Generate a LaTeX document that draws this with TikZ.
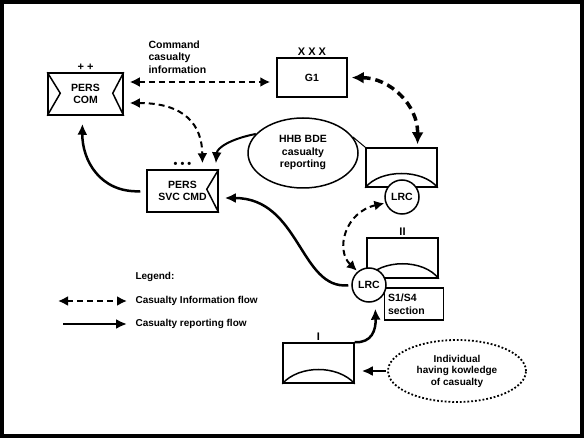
\documentclass[tikz,border=0pt]{standalone}
\usepackage{fontspec}
\setmainfont{Liberation Sans}
\usetikzlibrary{shapes.geometric}
\usetikzlibrary{arrows.meta}

\begin{document}
\begin{tikzpicture}[x=1pt,y=-1pt,
  every node/.style={font=\bfseries\fontsize{10.5}{12.5}\selectfont},
  unit/.style={draw,line width=1.5pt,minimum width=71pt,minimum height=40pt,align=center,inner sep=0pt},
  echelon/.style={above,inner sep=2pt,font=\bfseries\fontsize{11}{11}\selectfont},
  lrc/.style={draw,circle,fill=white,line width=1.5pt,minimum size=34pt,inner sep=0pt},
  arch/.style={line width=1.5pt},
  infoflow/.style={line width=2pt,dash pattern=on 6pt off 4pt,{Latex[length=10pt,width=10pt]}-{Latex[length=10pt,width=10pt]}},
  repflow/.style={line width=2.5pt,-{Latex[length=11pt,width=10pt]}}]
\useasboundingbox (0,0) rectangle (584,438);
\draw[line width=4pt] (2,2) rectangle (582,436);

\node[unit,minimum width=75pt,minimum height=42pt] (perscom) at (85.5,94) {PERS\\COM};
\draw[arch] (perscom.north west) -- ++(13,21) -- (perscom.south west);
\draw[arch] (perscom.north east) -- ++(-11,21) -- (perscom.south east);
\node[echelon] (perscomech) at (perscom.north) {+ +};

\node[unit,minimum width=70pt,minimum height=39pt] (g1) at (312,77.5) {G1};
\node[echelon] (g1ech) at (g1.north) {X X X};

\node[unit,minimum height=42pt] (perssvc) at (182.5,191) {PERS\\SVC CMD};
\draw[arch] (perssvc.north east) -- ++(-12,20) -- (perssvc.south east);
\node[echelon] (perssvcech) at (perssvc.north) {\textbullet\ \textbullet\ \textbullet};

\node[ellipse,draw,line width=1.5pt,minimum width=110pt,minimum height=70pt,align=center] (hhb) at (303,153) {HHB BDE\\casualty\\reporting};

\node[unit,minimum height=39pt] (hhbunit) at (401.5,167.5) {};
\draw[arch] (hhbunit.south west) .. controls +(15,-19) and +(-15,-19) .. (hhbunit.south east);
\node[lrc] (lrc1) at (402,197) {LRC};

\node[unit] (unitII) at (402.5,258) {};
\draw[arch] (unitII.south west) .. controls +(15,-20) and +(-15,-20) .. (unitII.south east);
\node[echelon] (unitIIech) at (unitII.north) {II};
\node[draw,line width=1.5pt,text width=52pt,minimum height=32pt,align=left] (s1s4) at (414,304) {S1/S4\\section};
\node[lrc] (lrc2) at (369,285) {LRC};

\node[unit] (unitI) at (318.5,363) {};
\draw[arch] (unitI.south west) .. controls +(17,-19) and +(-17,-19) .. (unitI.south east);
\node[echelon] (unitIech) at (unitI.north) {I};

\node[ellipse,draw,line width=1.8pt,dotted,minimum width=138pt,minimum height=62pt,align=center,
  font=\bfseries\fontsize{10}{11.5}\selectfont] (indiv) at (457,371) {Individual\\having kowledge\\of casualty};

\node[anchor=west,align=left] (cmdlabel) at (145,57) {Command\\casualty\\information};

% information flow
\draw[infoflow,shorten <=6pt,shorten >=6pt] ([yshift=12pt]perscom.east) -- ([yshift=12pt]perscom.east -| g1.west);
\draw[infoflow,shorten <=6pt,shorten >=6pt] ([yshift=-9pt]perscom.east) .. controls (185,103) and (202,125) .. ([xshift=20pt]perssvc.north);
\draw[infoflow,line width=3.5pt,dash pattern=on 8pt off 5pt,shorten <=4pt,shorten >=3pt,
  {Latex[length=12pt,width=12pt]}-{Latex[length=12pt,width=12pt]}] (g1.east) .. controls (390,78) and (418,105) .. ([xshift=16pt]hhbunit.north);
\draw[infoflow,shorten <=1pt,shorten >=1pt] (lrc1.200) .. controls (345,212) and (335,250) .. (lrc2.130);

% reporting flow
\draw[line width=1pt] (hhb.18) -- (hhbunit.north west);
\draw[repflow,line width=2pt,shorten >=6pt] (hhb.158) .. controls (230,139) and (217,148) .. ([xshift=33pt]perssvc.north);
\draw[repflow,shorten <=6pt,shorten >=8pt] (perssvc.west) .. controls (100,193) and (82,160) .. ([xshift=-3pt]perscom.south);
\draw[repflow,shorten <=3pt,shorten >=6pt] (lrc2.west) .. controls (300,290) and (300,198) .. ([yshift=-7pt]perssvc.east);
\draw[repflow,shorten >=7pt] (unitI.north east) .. controls (372,343) and (376,330) .. (lrc2.-70);
\draw[repflow,shorten <=1pt,shorten >=7pt] (indiv.west) -- (indiv.west -| unitI.east);

% legend
\node[anchor=west,font=\bfseries\fontsize{10}{12}\selectfont] (legend) at (132,277) {Legend:};
\node[anchor=west,font=\bfseries\fontsize{10}{12}\selectfont] (infotext) at (132,301) {Casualty Information flow};
\node[anchor=west,font=\bfseries\fontsize{10}{12}\selectfont] (reptext) at (132,324) {Casualty reporting flow};
\coordinate (infostart) at (58,301);
\coordinate (repstart) at (63,324);
\draw[infoflow] (infostart) -- ([xshift=-5pt]infotext.west);
\draw[repflow] (repstart) -- ([xshift=-5pt]reptext.west);
\end{tikzpicture}
\end{document}
